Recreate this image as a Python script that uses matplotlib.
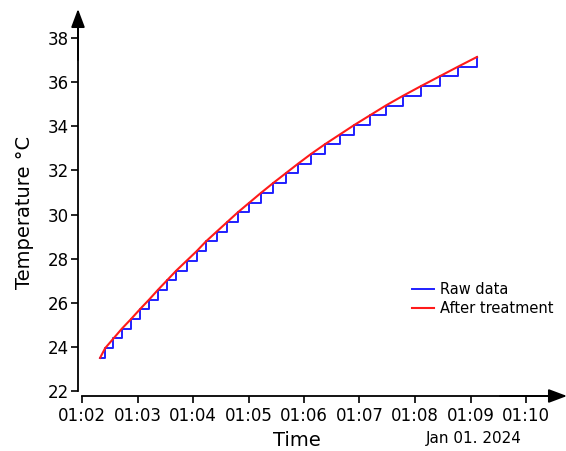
import matplotlib
matplotlib.use("Agg")
import matplotlib.pyplot as plt
import matplotlib.dates as mdates
import pandas as pd

# ---- data ----
raw_times = ["01:02:19.5", "01:02:25", "01:02:34", "01:02:43", "01:02:53", "01:03:02.5",
             "01:03:12.5", "01:03:22", "01:03:32", "01:03:42", "01:03:53", "01:04:04",
             "01:04:14", "01:04:25.5", "01:04:37", "01:04:48.5", "01:05:01", "01:05:13.5",
             "01:05:26.5", "01:05:40", "01:05:53.5", "01:06:07.5", "01:06:22.5", "01:06:38.5",
             "01:06:54.5", "01:07:11.5", "01:07:28.5", "01:07:47", "01:08:06.5", "01:08:26.5",
             "01:08:46.5", "01:09:07"]
raw_temps = [23.50, 23.94, 24.38, 24.82, 25.26, 25.70, 26.14, 26.58, 27.02, 27.46,
             27.90, 28.34, 28.78, 29.22, 29.66, 30.10, 30.54, 30.98, 31.42, 31.86,
             32.30, 32.74, 33.18, 33.62, 34.06, 34.50, 34.94, 35.38, 35.82, 36.26,
             36.70, 37.14]
treated_times = raw_times
treated_temps = [23.50, 23.94, 24.38, 24.82, 25.26, 25.70, 26.14, 26.58, 27.02, 27.46,
                 27.90, 28.34, 28.78, 29.22, 29.66, 30.10, 30.54, 30.98, 31.42, 31.86,
                 32.30, 32.74, 33.18, 33.62, 34.06, 34.50, 34.94, 35.38, 35.82, 36.26,
                 36.70, 37.14]
y_ticks = [22, 24, 26, 28, 30, 32, 34, 36, 38]
x_tick_times = ["01:02", "01:03", "01:04", "01:05", "01:06", "01:07", "01:08", "01:09", "01:10"]
date_str = "2024-01-01"

def to_dt(s):
    return pd.to_datetime(date_str + " " + s)

rt = [to_dt(s) for s in raw_times]
tt = [to_dt(s) for s in treated_times]

W, H = 566, 451
fig = plt.figure(figsize=(W / 100, H / 100), dpi=100)
left_px, right_px = 82, 560
top_px, bottom_px = 14, 391
ax = fig.add_axes([left_px / W, 1 - bottom_px / H, (right_px - left_px) / W, (bottom_px - top_px) / H])

ax.plot(rt, raw_temps, drawstyle="steps-post", color="#1f1fff", lw=1.4, label="Raw data")
ax.plot(tt, treated_temps, color="#ff1a1a", lw=1.5, label="After treatment",
        solid_joinstyle="round")

x0 = to_dt("01:02:00")
px_per_min = 55.5
x1 = x0 + pd.Timedelta(minutes=(right_px - left_px) / px_per_min)
ax.set_xlim(x0, x1)
px_per_deg = (391 - 38) / 16.0
ax.set_ylim(22, 22 + (bottom_px - top_px) / px_per_deg)

ax.set_yticks(y_ticks)
ax.set_xticks([to_dt(s + ":00") for s in x_tick_times])
ax.xaxis.set_major_formatter(mdates.DateFormatter("%H:%M"))

PT = 72 / 100.0  # points per pixel
for s in ["top", "right"]:
    ax.spines[s].set_visible(False)
ax.spines["left"].set_position(("outward", 4 * PT))
ax.spines["bottom"].set_position(("outward", 5 * PT))
for s in ["left", "bottom"]:
    ax.spines[s].set_linewidth(1.3)
ax.tick_params(axis="both", labelsize=12, width=1.2, length=5, colors="black")
ax.tick_params(axis="y", pad=1.5)
ax.tick_params(axis="x", pad=3)

# axis arrows (figure pixel coordinates, origin bottom-left)
arrow_kw = dict(arrowstyle="-|>,head_length=0.8,head_width=0.3", color="black",
                lw=1.3, mutation_scale=14, shrinkA=0, shrinkB=0)
ax.annotate("", xy=(78, H - 9), xycoords="figure pixels", xytext=(78, H - 60),
            textcoords="figure pixels", arrowprops=arrow_kw)
ax.annotate("", xy=(567, H - 396), xycoords="figure pixels", xytext=(500, H - 396),
            textcoords="figure pixels", arrowprops=arrow_kw)

fig.text(297 / W, 1 - 440 / H, "Time", fontsize=14, ha="center", va="center")
fig.text(25 / W, 1 - 212 / H, "Temperature °C", fontsize=14, ha="center", va="center",
         rotation=90)
fig.text(474 / W, 1 - 438 / H, "Jan 01. 2024", fontsize=11, ha="center", va="center")

ax.legend(loc="upper left", bbox_to_anchor=(412 / W, 1 - 282 / H),
          bbox_transform=fig.transFigure, frameon=False, fontsize=10.5,
          handlelength=1.5, handletextpad=0.45, labelspacing=0.25,
          borderpad=0, borderaxespad=0)

fig.savefig("out.png", dpi=100)
